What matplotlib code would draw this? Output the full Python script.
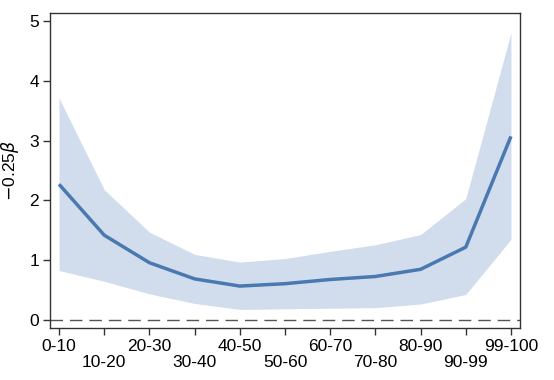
import matplotlib
matplotlib.use("Agg")
import matplotlib.pyplot as plt
import numpy as np

plt.rcParams['font.family'] = ['Liberation Sans', 'DejaVu Sans']

categories = ["0-10", "10-20", "20-30", "30-40", "40-50", "50-60",
              "60-70", "70-80", "80-90", "90-99", "99-100"]
estimate = [2.27, 1.42, 0.96, 0.69, 0.57, 0.61, 0.68, 0.73, 0.85, 1.22, 3.07]
upper = [3.71, 2.18, 1.47, 1.10, 0.97, 1.03, 1.15, 1.26, 1.43, 2.03, 4.80]
lower = [0.83, 0.65, 0.44, 0.28, 0.18, 0.19, 0.20, 0.21, 0.27, 0.43, 1.35]
yticks = [0, 1, 2, 3, 4, 5]

fig = plt.figure(figsize=(5.54, 3.80), dpi=100)
ax = fig.add_axes([50/554, 1 - 328/380, 470/554, 315/380])

x = np.arange(len(categories))
ax.fill_between(x, lower, upper, color='#d1dded', linewidth=0)
ax.plot(x, estimate, color='#4a79b1', linewidth=2.5, solid_capstyle='butt')
ax.axhline(0, color='#555555', linewidth=1.0, dashes=(9, 5))

ax.set_xlim(-0.2, 10.2)
ax.set_ylim(-0.13, 5.13)
ax.set_yticks(yticks)
ax.set_yticklabels([str(v) for v in yticks], fontsize=12.5)
ax.set_xticks(x)
ax.set_xticklabels([c if i % 2 == 0 else "\n" + c for i, c in enumerate(categories)],
                   fontsize=12.5, linespacing=1.05)
ax.tick_params(axis='both', direction='out', length=5, width=1, color='#333333', pad=3)
for s in ax.spines.values():
    s.set_color('#333333')
    s.set_linewidth(1.0)
ax.set_ylabel(r'$-$0.25$\it{\beta}$', fontsize=12.5, labelpad=6)

fig.savefig("out.png", dpi=100)
